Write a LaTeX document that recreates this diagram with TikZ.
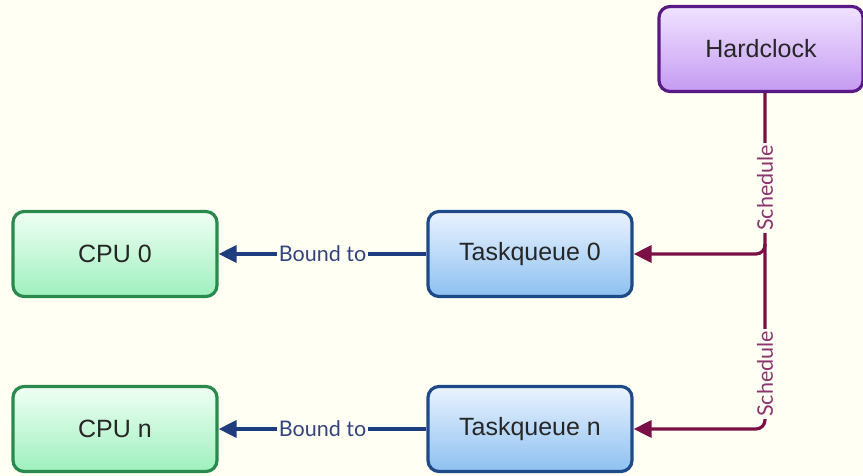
\documentclass[tikz,border=0pt]{standalone}
\usepackage{fontspec}
\setmainfont{Liberation Sans}
\newfontfamily\labelfont{Lato}
\usetikzlibrary{arrows.meta}
\definecolor{bg}{HTML}{FFFFF3}
\definecolor{hcborder}{HTML}{5A1A86}
\definecolor{hctop}{HTML}{F0E2FF}
\definecolor{hcbot}{HTML}{C59BF2}
\definecolor{tqborder}{HTML}{1F4A8A}
\definecolor{tqtop}{HTML}{EAF3FF}
\definecolor{tqbot}{HTML}{8DC0F0}
\definecolor{cpuborder}{HTML}{2A8A4E}
\definecolor{cputop}{HTML}{EFFFF4}
\definecolor{cpubot}{HTML}{9EF0BE}
\definecolor{bluearrow}{HTML}{1F3C7E}
\definecolor{bluetext}{HTML}{34457E}
\definecolor{schedarrow}{HTML}{7A1045}
\definecolor{schedtext}{HTML}{8A3470}
\tikzset{
  x=1pt, y=-1pt,
  box/.style={rounded corners=11pt, line width=3.2pt, minimum width=204pt, minimum height=85pt, font=\fontsize{25}{29}\selectfont, text=black!85},
  hcbox/.style={box, draw=hcborder, top color=hctop, bottom color=hcbot},
  tqbox/.style={box, draw=tqborder, top color=tqtop, bottom color=tqbot},
  cpubox/.style={box, draw=cpuborder, top color=cputop, bottom color=cpubot},
  boundarrow/.style={draw=bluearrow, line width=3.2pt, -{Triangle[length=18pt,width=17pt]}},
  schedarrow/.style={draw=schedarrow, line width=3.2pt, -{Triangle[length=18pt,width=17pt]}, rounded corners=9pt},
  boundlabel/.style={fill=bg, inner sep=2pt, text=bluetext, font=\labelfont\fontsize{21.5}{24}\selectfont},
  schedlabel/.style={fill=bg, inner sep=2pt, text=schedtext, rotate=90, font=\labelfont\fontsize{21.5}{24}\selectfont},
}
\begin{document}
\begin{tikzpicture}
\fill[bg] (0,0) rectangle (863,476);
\useasboundingbox (0,0) rectangle (863,476);
\node[hcbox] (hc) at (761,49) {Hardclock};
\node[tqbox] (tq0) at (530,254) {Taskqueue 0};
\node[tqbox] (tqn) at (530,429) {Taskqueue n};
\node[cpubox] (cpu0) at (115,254) {CPU 0};
\node[cpubox] (cpun) at (115,429) {CPU n};
\coordinate (branch) at (765,254);
\draw[schedarrow] (hc.south -| branch) -- (765,429) -- (tqn.east);
\draw[schedarrow] (765,244) -- (branch) -- (tq0.east);
\node[schedlabel] at (765,188) {Schedule};
\node[schedlabel] at (765,374) {Schedule};
\draw[boundarrow] (tq0.west) -- (cpu0.east) node[boundlabel, pos=0.5] {Bound to};
\draw[boundarrow] (tqn.west) -- (cpun.east) node[boundlabel, pos=0.5] {Bound to};
\end{tikzpicture}
\end{document}
